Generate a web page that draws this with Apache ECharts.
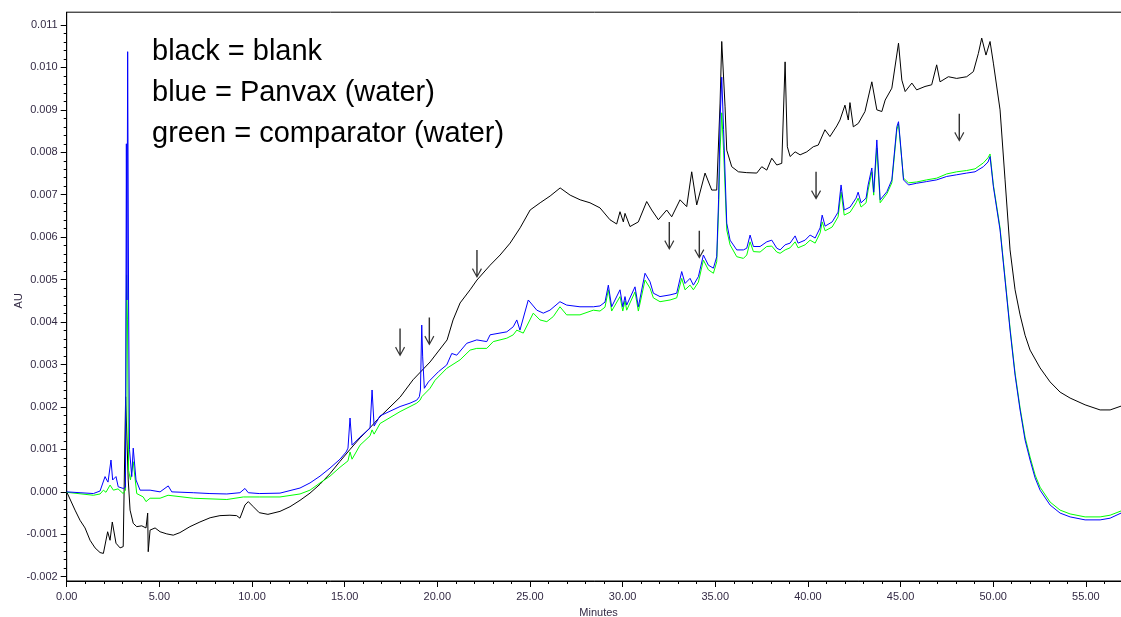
<!DOCTYPE html>
<html>
<head>
<meta charset="utf-8">
<script src="https://cdn.jsdelivr.net/npm/echarts/dist/echarts.min.js"></script>
<style>
html,body{margin:0;padding:0;background:#fff;}
#chart{width:1121px;height:617px;}
</style>
</head>
<body>
<div id="chart"></div>
<script>
// Data (time in minutes, absorbance in AU)
var blank = [[0,0.00000],[0.45,-0.00043],[0.72,-0.00067],[0.99,-0.00085],[1.26,-0.00114],[1.53,-0.00132],[1.80,-0.00143],[1.98,-0.00145],[2.21,-0.00094],[2.34,-0.00114],[2.46,-0.00071],[2.66,-0.00121],[2.88,-0.00132],[3.05,-0.00129],[3.15,-0.00125],[3.18,0.00224],[3.32,0.00028],[3.42,-0.00043],[3.59,-0.00074],[3.78,-0.00082],[4.05,-0.00080],[4.28,-0.00085],[4.37,-0.00050],[4.40,-0.00141],[4.50,-0.00090],[4.77,-0.00085],[5.04,-0.00094],[5.40,-0.00099],[5.75,-0.00102],[6.11,-0.00096],[6.65,-0.00082],[7.19,-0.00071],[7.74,-0.00061],[8.27,-0.00056],[8.81,-0.00055],[9.17,-0.00056],[9.35,-0.00062],[9.62,-0.00031],[9.80,-0.00023],[10.07,-0.00035],[10.39,-0.00049],[10.86,-0.00053],[11.51,-0.00046],[12.05,-0.00035],[12.59,-0.00020],[13.13,-0.00003],[13.67,0.00018],[14.21,0.00043],[14.75,0.00072],[15.29,0.00100],[15.83,0.00127],[16.37,0.00151],[16.91,0.00177],[17.99,0.00223],[18.69,0.00264],[19.61,0.00306],[20.53,0.00358],[20.85,0.00405],[21.23,0.00445],[21.77,0.00476],[22.14,0.00499],[22.85,0.00534],[23.39,0.00558],[23.93,0.00586],[24.47,0.00622],[25.01,0.00664],[25.55,0.00681],[26.09,0.00697],[26.63,0.00716],[27.17,0.00699],[27.71,0.00688],[28.24,0.00681],[28.78,0.00669],[29.32,0.00641],[29.68,0.00631],[29.86,0.00660],[30.04,0.00636],[30.13,0.00656],[30.40,0.00625],[30.85,0.00636],[31.30,0.00684],[31.57,0.00664],[31.93,0.00641],[32.38,0.00664],[32.65,0.00648],[33.10,0.00688],[33.46,0.00672],[33.73,0.00754],[34.00,0.00676],[34.45,0.00751],[34.81,0.00711],[35.08,0.00711],[35.26,0.00916],[35.35,0.01061],[35.53,0.00907],[35.62,0.00805],[35.89,0.00766],[36.25,0.00754],[36.70,0.00752],[37.24,0.00751],[37.51,0.00766],[37.78,0.00758],[38.05,0.00786],[38.32,0.00770],[38.59,0.00774],[38.77,0.01013],[38.89,0.00813],[39.04,0.00790],[39.31,0.00801],[39.58,0.00794],[39.94,0.00801],[40.29,0.00813],[40.56,0.00817],[40.92,0.00853],[41.19,0.00837],[41.56,0.00862],[41.73,0.00876],[42.00,0.00911],[42.18,0.00876],[42.27,0.00917],[42.45,0.00860],[42.72,0.00868],[43.08,0.00896],[43.45,0.00966],[43.72,0.00900],[43.99,0.00896],[44.17,0.00923],[44.53,0.00951],[44.89,0.01057],[45.07,0.00970],[45.25,0.00943],[45.61,0.00963],[45.87,0.00947],[46.32,0.00955],[46.68,0.00959],[46.95,0.01006],[47.13,0.00966],[47.58,0.00978],[48.03,0.00974],[48.57,0.00978],[48.93,0.00990],[49.20,0.01033],[49.38,0.01069],[49.61,0.01029],[49.83,0.01061],[50.01,0.01010],[50.37,0.00900],[50.64,0.00735],[50.91,0.00570],[51.18,0.00476],[51.45,0.00417],[51.72,0.00369],[51.99,0.00334],[52.53,0.00292],[53.07,0.00259],[53.61,0.00235],[54.15,0.00221],[54.96,0.00205],[55.77,0.00193],[56.31,0.00193],[56.90,0.00202]];

var panvax = [[0,0.00000],[0.72,-0.00002],[1.44,-0.00004],[1.80,0.00002],[2.07,0.00036],[2.16,0.00028],[2.23,0.00023],[2.39,0.00075],[2.48,0.00028],[2.66,0.00036],[2.78,0.00012],[3.05,0.00008],[3.17,0.00011],[3.22,0.00820],[3.25,0.00452],[3.29,0.01037],[3.34,0.00452],[3.39,0.00099],[3.51,0.00036],[3.59,0.00103],[3.74,0.00028],[3.96,0.00004],[4.50,0.00004],[5.04,0.00000],[5.48,0.00014],[5.67,0.00000],[6.83,-0.00002],[7.73,-0.00004],[8.64,-0.00005],[9.35,-0.00002],[9.62,0.00008],[9.80,-0.00002],[10.39,-0.00004],[11.51,-0.00003],[12.59,0.00009],[13.13,0.00021],[13.67,0.00037],[14.21,0.00056],[14.75,0.00077],[15.08,0.00094],[15.18,0.00103],[15.29,0.00174],[15.40,0.00110],[15.83,0.00129],[16.37,0.00150],[16.48,0.00240],[16.59,0.00155],[16.91,0.00179],[17.99,0.00201],[18.53,0.00209],[18.89,0.00216],[19.03,0.00224],[19.09,0.00240],[19.16,0.00393],[19.21,0.00318],[19.30,0.00244],[19.52,0.00259],[20.06,0.00283],[20.51,0.00299],[20.78,0.00326],[21.05,0.00322],[21.59,0.00350],[22.13,0.00358],[22.67,0.00354],[22.85,0.00370],[23.75,0.00377],[24.10,0.00389],[24.29,0.00405],[24.46,0.00381],[24.91,0.00452],[25.37,0.00428],[25.72,0.00421],[26.08,0.00428],[26.62,0.00448],[26.98,0.00440],[27.70,0.00436],[28.42,0.00436],[28.78,0.00438],[29.05,0.00447],[29.23,0.00487],[29.41,0.00436],[29.86,0.00476],[30.01,0.00436],[30.13,0.00460],[30.22,0.00440],[30.67,0.00483],[30.85,0.00436],[31.21,0.00515],[31.48,0.00495],[31.66,0.00468],[32.02,0.00460],[32.56,0.00464],[32.92,0.00468],[33.19,0.00519],[33.37,0.00491],[33.64,0.00503],[33.82,0.00487],[34.09,0.00507],[34.36,0.00558],[34.63,0.00534],[34.90,0.00527],[35.08,0.00554],[35.18,0.00688],[35.26,0.00876],[35.35,0.00977],[35.45,0.00853],[35.62,0.00633],[35.80,0.00593],[36.16,0.00570],[36.52,0.00570],[36.70,0.00574],[36.88,0.00605],[37.06,0.00578],[37.42,0.00578],[37.78,0.00589],[38.05,0.00593],[38.32,0.00574],[38.50,0.00570],[38.77,0.00582],[39.04,0.00586],[39.31,0.00603],[39.47,0.00586],[39.85,0.00593],[40.12,0.00605],[40.39,0.00598],[40.66,0.00622],[40.77,0.00652],[40.93,0.00626],[41.31,0.00636],[41.63,0.00659],[41.79,0.00723],[41.96,0.00664],[42.28,0.00671],[42.60,0.00692],[42.71,0.00706],[42.87,0.00681],[43.14,0.00692],[43.25,0.00723],[43.45,0.00763],[43.55,0.00706],[43.72,0.00829],[43.90,0.00688],[44.26,0.00707],[44.53,0.00735],[44.80,0.00860],[44.89,0.00872],[44.98,0.00829],[45.16,0.00735],[45.43,0.00723],[45.87,0.00727],[46.41,0.00731],[46.95,0.00735],[47.49,0.00743],[48.03,0.00747],[48.57,0.00751],[49.02,0.00754],[49.47,0.00766],[49.72,0.00777],[49.83,0.00790],[50.01,0.00719],[50.37,0.00617],[50.64,0.00499],[50.91,0.00381],[51.18,0.00275],[51.45,0.00193],[51.72,0.00122],[51.99,0.00075],[52.26,0.00033],[52.53,0.00004],[53.07,-0.00031],[53.61,-0.00050],[54.15,-0.00059],[54.96,-0.00066],[55.77,-0.00066],[56.31,-0.00062],[56.90,-0.00050]];

var comparator = [[0,-0.00001],[1.44,-0.00008],[1.80,-0.00005],[1.98,0.00004],[2.12,-0.00001],[2.34,0.00016],[2.52,0.00004],[2.77,0.00007],[3.05,-0.00004],[3.17,0.00004],[3.23,0.00511],[3.28,0.00405],[3.34,0.00051],[3.44,0.00028],[3.59,0.00071],[3.78,-0.00004],[4.13,-0.00012],[4.28,-0.00023],[4.50,-0.00015],[5.04,-0.00015],[5.47,-0.00008],[6.83,-0.00015],[8.64,-0.00018],[9.53,-0.00012],[10.39,-0.00012],[11.51,-0.00012],[12.59,-0.00005],[13.13,0.00004],[13.67,0.00021],[14.21,0.00037],[14.75,0.00058],[15.18,0.00073],[15.29,0.00094],[15.40,0.00077],[15.83,0.00110],[16.37,0.00132],[16.48,0.00146],[16.59,0.00136],[16.91,0.00161],[17.99,0.00189],[18.89,0.00209],[19.07,0.00216],[19.16,0.00224],[19.61,0.00244],[19.88,0.00263],[20.51,0.00291],[21.23,0.00311],[21.77,0.00334],[22.13,0.00338],[22.67,0.00338],[23.02,0.00354],[23.75,0.00362],[24.10,0.00370],[24.29,0.00381],[24.64,0.00374],[25.18,0.00421],[25.54,0.00405],[25.91,0.00401],[26.26,0.00413],[26.62,0.00436],[26.98,0.00417],[27.70,0.00417],[28.42,0.00428],[28.78,0.00426],[29.05,0.00435],[29.23,0.00476],[29.41,0.00426],[29.86,0.00460],[30.01,0.00426],[30.13,0.00450],[30.22,0.00428],[30.67,0.00471],[30.85,0.00426],[31.21,0.00499],[31.48,0.00480],[31.66,0.00457],[32.02,0.00448],[32.56,0.00452],[32.92,0.00457],[33.19,0.00503],[33.37,0.00476],[33.64,0.00487],[33.82,0.00476],[34.09,0.00494],[34.36,0.00546],[34.63,0.00523],[34.90,0.00515],[35.08,0.00542],[35.18,0.00664],[35.26,0.00805],[35.35,0.00893],[35.45,0.00805],[35.62,0.00617],[35.80,0.00582],[36.16,0.00554],[36.52,0.00550],[36.70,0.00558],[36.88,0.00589],[37.06,0.00566],[37.42,0.00565],[37.78,0.00578],[38.05,0.00579],[38.32,0.00565],[38.50,0.00562],[38.77,0.00570],[39.04,0.00575],[39.31,0.00589],[39.47,0.00575],[39.85,0.00582],[40.12,0.00593],[40.39,0.00586],[40.66,0.00610],[40.77,0.00636],[40.93,0.00615],[41.31,0.00624],[41.63,0.00648],[41.79,0.00706],[41.96,0.00652],[42.28,0.00659],[42.60,0.00681],[42.71,0.00692],[42.87,0.00671],[43.14,0.00681],[43.25,0.00711],[43.45,0.00754],[43.55,0.00699],[43.72,0.00810],[43.90,0.00681],[44.26,0.00702],[44.53,0.00728],[44.80,0.00853],[44.89,0.00867],[44.98,0.00824],[45.16,0.00739],[45.43,0.00728],[45.87,0.00730],[46.41,0.00735],[46.95,0.00739],[47.49,0.00749],[48.03,0.00754],[48.57,0.00757],[49.02,0.00761],[49.47,0.00775],[49.72,0.00787],[49.83,0.00796],[50.01,0.00723],[50.37,0.00622],[50.64,0.00504],[50.91,0.00386],[51.18,0.00280],[51.45,0.00198],[51.72,0.00129],[51.99,0.00082],[52.26,0.00040],[52.53,0.00011],[53.07,-0.00024],[53.61,-0.00043],[54.15,-0.00052],[54.96,-0.00059],[55.77,-0.00059],[56.31,-0.00055],[56.90,-0.00045]];

var arrowT = [17.99, 19.57, 22.14, 32.52, 34.14, 40.44, 48.17];
var arrowV = [0.00352, 0.00378, 0.00537, 0.00603, 0.00582, 0.00721, 0.00858];

var legendLines = ['black = blank', 'blue = Panvax (water)', 'green = comparator (water)'];
var xAxisName = 'Minutes';
var yAxisName = 'AU';

var FONT = "'Liberation Sans', Arial, sans-serif";
var LABEL_COLOR = '#332a44';

var arrowData = arrowT.map(function (t, i) { return [t, arrowV[i]]; });

var chart = echarts.init(document.getElementById('chart'), null, {renderer: 'canvas'});
chart.setOption({
  animation: false,
  backgroundColor: '#ffffff',
  title: {
    text: legendLines.join('\n'),
    left: 152,
    top: 31,
    padding: 0,
    textStyle: {fontFamily: FONT, fontSize: 29, fontWeight: 'normal', color: '#000', lineHeight: 41}
  },
  grid: [
    {left: 66.7, right: -57.5, top: 12.2, bottom: 36, outerBoundsMode: 'none', containLabel: false,
      show: true, borderColor: '#000', borderWidth: 1, backgroundColor: 'transparent'},
    {left: 66.7, right: -57.5, top: 24.96, bottom: 40.32, outerBoundsMode: 'none', containLabel: false, show: false}
  ],
  xAxis: [
    {
      gridIndex: 0, type: 'value', min: 0, max: 60, interval: 5,
      name: xAxisName, nameLocation: 'middle', nameGap: 26, nameMoveOverlap: false,
      nameTextStyle: {fontFamily: FONT, fontSize: 11, color: LABEL_COLOR, padding: [0, 48, 0, 0]},
      axisLine: {show: true, onZero: false, lineStyle: {color: '#000', width: 1}},
      axisTick: {show: true, length: 6, lineStyle: {color: '#000'}},
      minorTick: {show: true, splitNumber: 5, length: 3, lineStyle: {color: '#000'}},
      axisLabel: {fontFamily: FONT, fontSize: 11, color: LABEL_COLOR, margin: 10, showMaxLabel: false,
        formatter: function (v) { return v.toFixed(2); }},
      splitLine: {show: false}
    },
    {gridIndex: 1, type: 'value', min: 0, max: 60, show: false}
  ],
  yAxis: [
    {
      gridIndex: 0, type: 'value', min: -0.0021, max: 0.0113,
      axisLine: {show: true, onZero: false, lineStyle: {color: '#000', width: 1}},
      axisTick: {show: false}, axisLabel: {show: false}, splitLine: {show: false}
    },
    {
      gridIndex: 1, type: 'value', min: -0.002, max: 0.011, interval: 0.001,
      name: yAxisName, nameLocation: 'middle', nameGap: 42, nameMoveOverlap: false,
      nameTextStyle: {fontFamily: FONT, fontSize: 11, color: LABEL_COLOR},
      axisLine: {show: false, onZero: false},
      axisTick: {show: true, length: 6, lineStyle: {color: '#000'}},
      minorTick: {show: true, splitNumber: 5, length: 3, lineStyle: {color: '#000'}},
      axisLabel: {fontFamily: FONT, fontSize: 11, color: LABEL_COLOR, margin: 9,
        formatter: function (v) { return v.toFixed(3); }},
      splitLine: {show: false}
    }
  ],
  series: [
    {name: 'blank', type: 'line', xAxisIndex: 0, yAxisIndex: 0, data: blank, showSymbol: false, symbol: 'none',
      lineStyle: {color: '#000000', width: 1}, z: 2, silent: true},
    {name: 'comparator', type: 'line', xAxisIndex: 0, yAxisIndex: 0, data: comparator, showSymbol: false, symbol: 'none',
      lineStyle: {color: '#00ff00', width: 1}, z: 3, silent: true},
    {name: 'Panvax', type: 'line', xAxisIndex: 0, yAxisIndex: 0, data: panvax, showSymbol: false, symbol: 'none',
      lineStyle: {color: '#0000ff', width: 1}, z: 4, silent: true},
    {name: 'arrows', type: 'scatter', xAxisIndex: 0, yAxisIndex: 0, data: arrowData,
      symbol: 'path://M4.3,0 L5.7,0 L5.7,24.5 L8.9,18.4 L9.9,19.1 L5,28 L0.1,19.1 L1.1,18.4 L4.3,24.5 Z',
      symbolSize: [10, 28], itemStyle: {color: '#000'}, z: 5, silent: true}
  ]
});
</script>
</body>
</html>
